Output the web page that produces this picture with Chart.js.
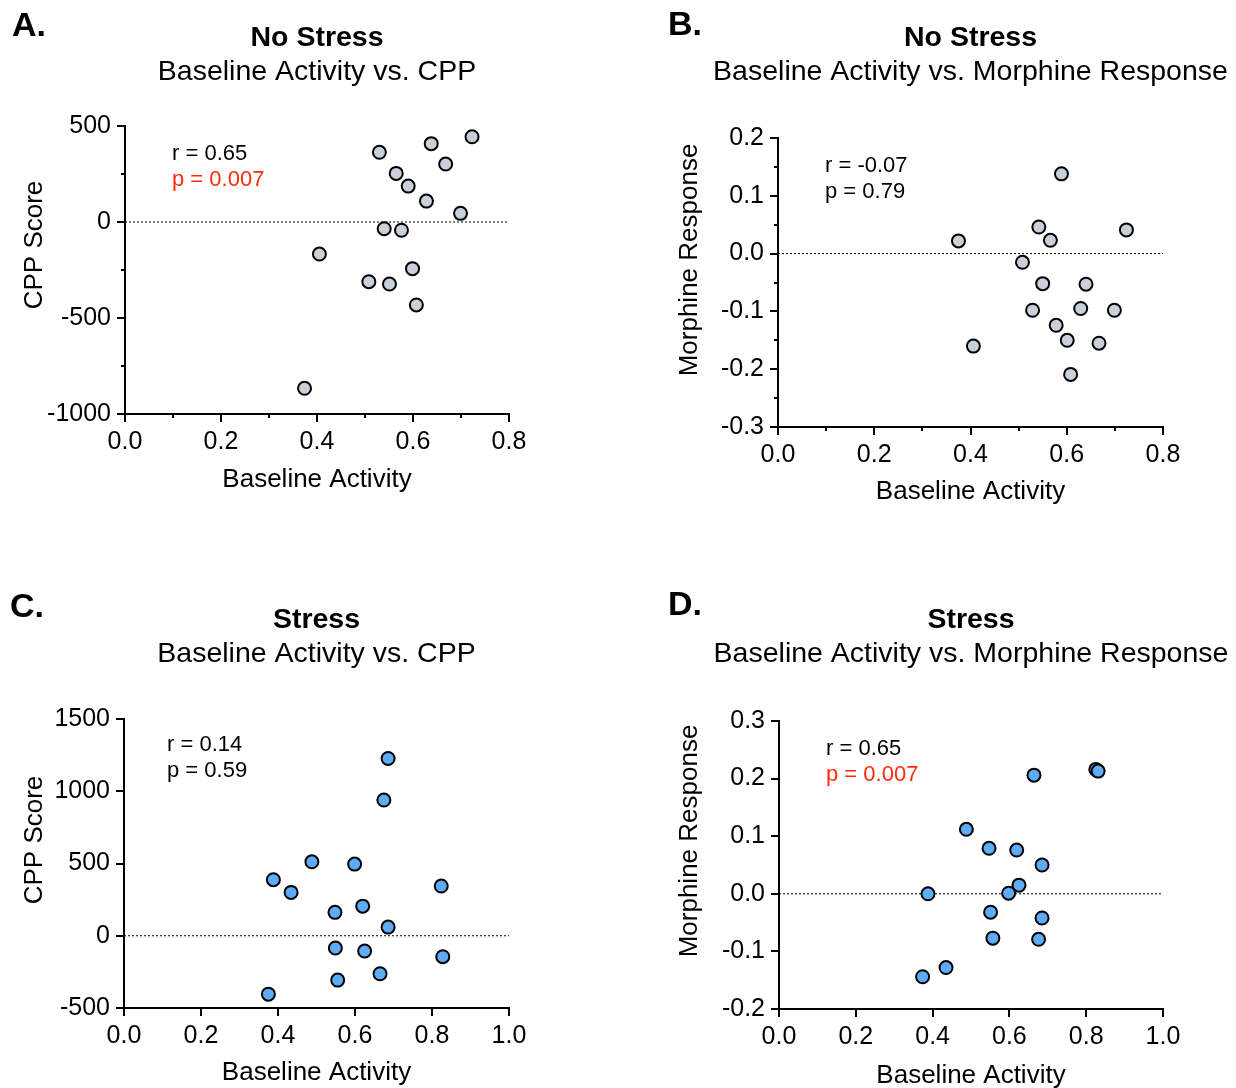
<!DOCTYPE html>
<html lang="en">
<head>
  <meta charset="UTF-8" />
  <title>Baseline Activity correlations</title>
  <script src="https://cdn.jsdelivr.net/npm/chart.js"></script>
  <style>
    html, body { margin: 0; padding: 0; background: #fff; }
    #page { position: relative; width: 1236px; height: 1088px; }
    .panel { position: absolute; width: 618px; height: 544px; }
  </style>
</head>
<body>
  <div id="page">
    <div class="panel" style="left:0;top:0"><canvas id="chartA"></canvas></div>
    <div class="panel" style="left:618px;top:0"><canvas id="chartB"></canvas></div>
    <div class="panel" style="left:0;top:544px"><canvas id="chartC"></canvas></div>
    <div class="panel" style="left:618px;top:544px"><canvas id="chartD"></canvas></div>
  </div>

  <script>
    // values
    const noStressActivityA = [0.530, 0.638, 0.723, 0.668, 0.565, 0.590, 0.628, 0.699, 0.540, 0.576, 0.405, 0.599, 0.508, 0.551, 0.607, 0.374];
    const noStressCpp = [363, 408, 444, 302, 253, 187, 109, 45, -35, -43, -167, -243, -311, -323, -432, -866];

    const noStressActivityB = [0.589, 0.375, 0.542, 0.566, 0.724, 0.508, 0.550, 0.640, 0.529, 0.629, 0.699, 0.578, 0.601, 0.667, 0.406, 0.608];
    const noStressMorphine = [0.138, 0.022, 0.046, 0.023, 0.041, -0.015, -0.052, -0.053, -0.098, -0.095, -0.098, -0.124, -0.150, -0.155, -0.160, -0.209];

    const stressActivityC = [0.686, 0.675, 0.488, 0.599, 0.388, 0.434, 0.824, 0.620, 0.548, 0.686, 0.549, 0.625, 0.828, 0.665, 0.555, 0.375];
    const stressCpp = [1227, 939, 512, 496, 388, 300, 344, 205, 162, 60, -85, -106, -145, -263, -307, -404];

    const stressActivityD = [0.664, 0.825, 0.831, 0.488, 0.547, 0.619, 0.685, 0.625, 0.598, 0.388, 0.551, 0.685, 0.557, 0.676, 0.435, 0.374];
    const stressMorphine = [0.206, 0.216, 0.213, 0.112, 0.079, 0.076, 0.050, 0.015, 0.001, 0.000, -0.032, -0.042, -0.077, -0.079, -0.128, -0.144];

    const FONT = "'Liberation Sans', Arial, Helvetica, sans-serif";
    const GREY = '#c8d0da';
    const BLUE = '#5eacf5';
    const RED = '#ff2a0a';

    Chart.defaults.font.family = FONT;
    Chart.defaults.color = '#000';
    Chart.defaults.animation = false;

    function toPoints(xs, ys) {
      return xs.map((x, i) => ({ x, y: ys[i] }));
    }

    // draws panel letter, titles, axis titles, stats and minor ticks
    const decorPlugin = {
      id: 'decor',
      afterDraw(chart, args, o) {
        const ctx = chart.ctx;
        const area = chart.chartArea;
        const xs = chart.scales.x, ys = chart.scales.y;
        ctx.save();
        ctx.strokeStyle = '#000';
        ctx.lineWidth = 2;
        if (o.xMinor) {
          for (let v = xs.min + o.xMinor; v < xs.max; v += o.xMinor * 2) {
            const px = Math.round(xs.getPixelForValue(v));
            ctx.beginPath(); ctx.moveTo(px, area.bottom); ctx.lineTo(px, area.bottom + 4); ctx.stroke();
          }
        }
        if (o.yMinor) {
          for (let v = ys.min + o.yMinor; v < ys.max; v += o.yMinor * 2) {
            const py = Math.round(ys.getPixelForValue(v));
            ctx.beginPath(); ctx.moveTo(area.left, py); ctx.lineTo(area.left - 4, py); ctx.stroke();
          }
        }
        ctx.textBaseline = 'middle';
        ctx.fillStyle = '#000';
        const cx = (area.left + area.right) / 2;

        ctx.textAlign = 'left';
        ctx.font = 'bold 34px ' + FONT;
        ctx.fillText(o.letter, o.letterPos[0], o.letterPos[1]);

        ctx.textAlign = 'center';
        ctx.font = 'bold 28.5px ' + FONT;
        ctx.fillText(o.title, cx, o.titleY);
        ctx.font = '28.5px ' + FONT;
        ctx.fillText(o.subtitle, cx, o.titleY + 34);

        ctx.font = '26px ' + FONT;
        ctx.fillText('Baseline Activity', cx, o.xTitleY);
        ctx.save();
        ctx.translate(o.yTitlePos[0], o.yTitlePos[1]);
        ctx.rotate(-Math.PI / 2);
        ctx.fillText(o.yTitle, 0, 0);
        ctx.restore();

        ctx.textAlign = 'left';
        ctx.font = '22px ' + FONT;
        ctx.fillStyle = '#000';
        ctx.fillText(o.rText, o.statPos[0], o.statPos[1]);
        ctx.fillStyle = o.pRed ? RED : '#000';
        ctx.fillText(o.pText, o.statPos[0], o.statPos[1] + 26);
        ctx.restore();
      }
    };

    function makeChart(id, cfg) {
      const [L, R, T, bottom] = cfg.box;
      const xHeight = 60;
      const axisGrid = { drawOnChartArea: false, drawTicks: true, tickLength: 8, color: '#000', lineWidth: 2 };
      const axisBorder = { color: '#000', width: 2 };
      return new Chart(document.getElementById(id), {
        data: {
          datasets: [
            {
              type: 'scatter',
              data: toPoints(cfg.xs, cfg.ys),
              pointRadius: 6.5,
              pointBorderWidth: 2,
              pointBackgroundColor: cfg.fill,
              pointBorderColor: '#000',
              order: 1
            },
            {
              type: 'line',
              data: [{ x: 0, y: 0 }, { x: cfg.xMax, y: 0 }],
              borderColor: '#000',
              borderWidth: 1,
              borderDash: [2, 2],
              pointRadius: 0,
              order: 2
            }
          ]
        },
        options: {
          responsive: true,
          maintainAspectRatio: false,
          clip: false,
          layout: { padding: { left: 0, right: R, top: T, bottom: 544 - bottom - xHeight } },
          plugins: {
            legend: { display: false },
            tooltip: { enabled: false },
            decor: cfg.decor
          },
          scales: {
            x: {
              type: 'linear',
              min: 0,
              max: cfg.xMax,
              grid: axisGrid,
              border: axisBorder,
              ticks: { stepSize: 0.2, padding: 5, font: { size: 25 }, callback: v => v.toFixed(1), maxRotation: 0 },
              afterFit: s => { s.height = xHeight; }
            },
            y: {
              type: 'linear',
              min: cfg.yMin,
              max: cfg.yMax,
              grid: axisGrid,
              border: axisBorder,
              ticks: { stepSize: cfg.yStep, padding: 6, font: { size: 25 }, callback: cfg.yFmt },
              afterFit: s => { s.width = L; }
            }
          }
        },
        plugins: [decorPlugin]
      });
    }

    const intFmt = v => String(Math.round(v));
    const decFmt = v => (Math.abs(v) < 1e-9 ? 0 : v).toFixed(1);

    makeChart('chartA', {
      xs: noStressActivityA, ys: noStressCpp, fill: GREY,
      box: [125, 109, 126, 414], xMax: 0.8, yMin: -1000, yMax: 500, yStep: 500, yFmt: intFmt,
      decor: {
        letter: 'A.', letterPos: [12, 27], title: 'No Stress', subtitle: 'Baseline Activity vs. CPP', titleY: 38,
        xTitleY: 480, yTitle: 'CPP Score', yTitlePos: [35, 245],
        rText: 'r = 0.65', pText: 'p = 0.007', pRed: true, statPos: [172, 154],
        xMinor: 0.1, yMinor: 250
      }
    });

    makeChart('chartB', {
      xs: noStressActivityB, ys: noStressMorphine, fill: GREY,
      box: [160, 73, 138, 427], xMax: 0.8, yMin: -0.3, yMax: 0.2, yStep: 0.1, yFmt: decFmt,
      decor: {
        letter: 'B.', letterPos: [50, 26], title: 'No Stress', subtitle: 'Baseline Activity vs. Morphine Response', titleY: 38,
        xTitleY: 492, yTitle: 'Morphine Response', yTitlePos: [72, 260],
        rText: 'r = -0.07', pText: 'p = 0.79', pRed: false, statPos: [207, 166],
        xMinor: 0.1, yMinor: 0.05
      }
    });

    makeChart('chartC', {
      xs: stressActivityC, ys: stressCpp, fill: BLUE,
      box: [124, 109, 175, 464], xMax: 1.0, yMin: -500, yMax: 1500, yStep: 500, yFmt: intFmt,
      decor: {
        letter: 'C.', letterPos: [10, 64], title: 'Stress', subtitle: 'Baseline Activity vs. CPP', titleY: 76,
        xTitleY: 529, yTitle: 'CPP Score', yTitlePos: [35, 296],
        rText: 'r = 0.14', pText: 'p = 0.59', pRed: false, statPos: [167, 201],
        xMinor: 0, yMinor: 0
      }
    });

    makeChart('chartD', {
      xs: stressActivityD, ys: stressMorphine, fill: BLUE,
      box: [161, 73, 177, 465], xMax: 1.0, yMin: -0.2, yMax: 0.3, yStep: 0.1, yFmt: decFmt,
      decor: {
        letter: 'D.', letterPos: [50, 62], title: 'Stress', subtitle: 'Baseline Activity vs. Morphine Response', titleY: 76,
        xTitleY: 532, yTitle: 'Morphine Response', yTitlePos: [72, 297],
        rText: 'r = 0.65', pText: 'p = 0.007', pRed: true, statPos: [208, 205],
        xMinor: 0, yMinor: 0
      }
    });
  </script>
</body>
</html>
